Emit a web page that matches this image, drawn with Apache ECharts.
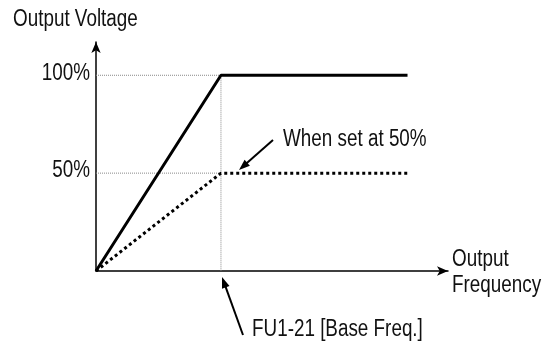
<!DOCTYPE html>
<html><head><meta charset="utf-8">
<script src="https://cdn.jsdelivr.net/npm/echarts@6/dist/echarts.min.js"></script>
<style>html,body{margin:0;padding:0;background:#fff}#c{width:548px;height:345px}</style>
</head><body><div id="c"></div>
<script>
// Data (x in % of axis length, y in % voltage)
var freqX = [0, 35.5, 88.5];           // origin, base frequency, end
var fullVoltage = [0, 100, 100];       // solid line
var halfVoltage = [0, 50, 50];         // dotted line (set at 50%)
var yTicks = [50, 100];
var yTickLabels = ['50%', '100%'];
var xMax = 100, yMax = 117;
var FONT = 'Liberation Sans, Arial, sans-serif';
var FS = 23, SX = 0.82;

function pts(xs, ys){ return xs.map(function(x,i){return [x, ys[i]];}); }

var chart = echarts.init(document.getElementById('c'), null, {renderer:'canvas'});

function arrow(x1,y1,x2,y2){
  var dx=x2-x1, dy=y2-y1, L=Math.sqrt(dx*dx+dy*dy), ux=dx/L, uy=dy/L;
  var hl=11, hw=4;
  var bx=x2-ux*hl, by=y2-uy*hl;
  return [
    {type:'line', shape:{x1:x1,y1:y1,x2:bx+ux*2,y2:by+uy*2}, style:{stroke:'#000', lineWidth:2}},
    {type:'polygon', shape:{points:[[x2,y2],[bx-uy*hw,by+ux*hw],[bx+uy*hw,by-ux*hw]]}, style:{fill:'#000'}}
  ];
}

var txt = function(x,y,t,align){ return {type:'text', x:x, y:y, scaleX:SX, style:{text:t, font:FS+'px '+FONT, fill:'#111', align:align||'left', verticalAlign:'middle'}}; };

var option = {
  animation:false,
  grid:{left:96, right:100, top:42, bottom:74},
  xAxis:{type:'value', min:0, max:xMax, splitLine:{show:false}, axisTick:{show:false}, axisLabel:{show:false},
    axisLine:{lineStyle:{color:'#000', width:1.5}, symbol:['none','arrow'], symbolSize:[7,11]}},
  yAxis:{type:'value', min:0, max:yMax, interval:50, splitLine:{show:false}, axisTick:{show:false}, axisLabel:{show:false},
    axisLine:{lineStyle:{color:'#000', width:1.5}, symbol:['none','arrow'], symbolSize:[7,11]}},
  series:[
    {type:'line', data:[[0,fullVoltage[1]],[freqX[1],fullVoltage[1]],[freqX[1],0]], symbol:'none', silent:true,
      lineStyle:{color:'#888', width:1, type:[1,1]}},
    {type:'line', data:[[0,halfVoltage[1]],[freqX[1],halfVoltage[1]]], symbol:'none', silent:true,
      lineStyle:{color:'#888', width:1, type:[1,1]}},
    {type:'line', data:pts(freqX, halfVoltage), symbol:'none',
      lineStyle:{color:'#000', width:3, type:[3,3], cap:'butt'}},
    {type:'line', data:pts(freqX, fullVoltage), symbol:'none',
      lineStyle:{color:'#000', width:3}}
  ]
};
chart.setOption(option);

var graphics = [
  txt(13, 20, 'Output Voltage'),
  txt(283, 140, 'When set at 50%'),
  txt(452, 260, 'Output'),
  txt(452, 286, 'Frequency'),
  txt(252, 330, 'FU1-21 [Base Freq.]')
].concat(arrow(273,140,239,170)).concat(arrow(243,335,222,277));

yTicks.forEach(function(v,i){
  var p = chart.convertToPixel({gridIndex:0}, [0, v]);
  graphics.push(txt(p[0]-6, p[1]-2, yTickLabels[i], 'right'));
});

chart.setOption({graphic:graphics});
</script></body></html>
